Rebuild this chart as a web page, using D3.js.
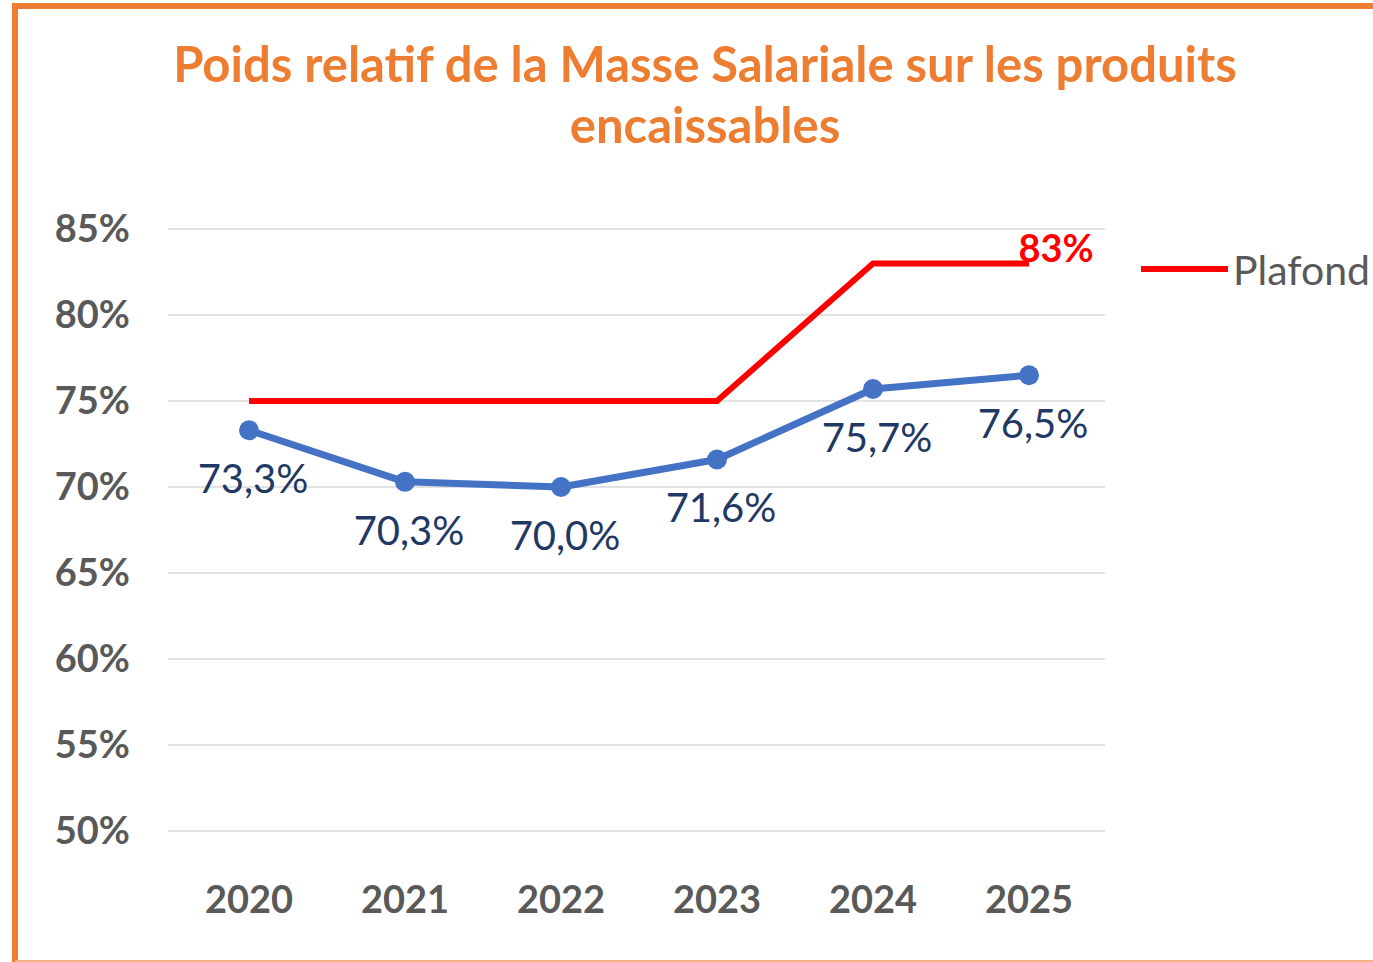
<!DOCTYPE html>
<html>
<head>
<meta charset="utf-8">
<script src="https://cdn.jsdelivr.net/npm/d3@7"></script>
<style>
  body { margin: 0; background: #fff; }
  svg { display: block; font-family: Lato, "Open Sans", sans-serif; }
</style>
</head>
<body>
<div id="chart"></div>
<script>
const years = ["2020", "2021", "2022", "2023", "2024", "2025"]
const masse = [73.3, 70.3, 70.0, 71.6, 75.7, 76.5]
const plafond = [75, 75, 75, 75, 83, 83]
const yTicks = [50, 55, 60, 65, 70, 75, 80, 85]
const titleLines = ["Poids relatif de la Masse Salariale sur les produits", "encaissables"]

const W = 1373, H = 962
const orange = "#ED7D31"

const svg = d3.select("#chart").append("svg")
    .attr("width", W)
    .attr("height", H)

// frame: left + top thick, bottom thin
svg.append("path")
    .attr("d", `M15,${H} L15,6 L${W},6`)
    .attr("fill", "none")
    .attr("stroke", orange)
    .attr("stroke-width", 6)
svg.append("line")
    .attr("x1", 15).attr("x2", W)
    .attr("y1", 961).attr("y2", 961)
    .attr("stroke", "#F4B183")
    .attr("stroke-width", 2)

// title
svg.append("g").selectAll("text")
    .data(titleLines)
    .join("text")
    .attr("x", 705)
    .attr("y", (d, i) => 82 + i * 61)
    .attr("text-anchor", "middle")
    .attr("fill", orange)
    .attr("font-weight", "bold")
    .attr("font-size", 49)
    .text(d => d)

const xScale = d3.scaleBand().domain(years).range([171, 1107])
const yScale = d3.scaleLinear().domain([50, 85]).range([831, 229])
const cx = d => xScale(d) + xScale.bandwidth() / 2

// gridlines
svg.append("g").selectAll("line")
    .data(yTicks)
    .join("line")
    .attr("x1", 168).attr("x2", 1105)
    .attr("y1", d => yScale(d)).attr("y2", d => yScale(d))
    .attr("stroke", "#D9D9D9")
    .attr("stroke-width", 1.5)

// y labels
svg.append("g").selectAll("text")
    .data(yTicks)
    .join("text")
    .attr("x", 130)
    .attr("y", d => yScale(d) + 13)
    .attr("text-anchor", "end")
    .attr("fill", "#595959")
    .attr("font-weight", "bold")
    .attr("font-size", 38)
    .text(d => d + "%")

// x labels
svg.append("g").selectAll("text")
    .data(years)
    .join("text")
    .attr("x", d => cx(d))
    .attr("y", 913)
    .attr("text-anchor", "middle")
    .attr("fill", "#595959")
    .attr("font-weight", "bold")
    .attr("font-size", 38)
    .text(d => d)

// plafond line
const plafondLine = d3.line()
    .x((d, i) => cx(years[i]))
    .y(d => yScale(d))

svg.append("path")
    .datum(plafond)
    .attr("d", plafondLine)
    .attr("fill", "none")
    .attr("stroke", "#FF0000")
    .attr("stroke-width", 6)

svg.append("text")
    .attr("x", cx(years[5]) + 27)
    .attr("y", yScale(plafond[5]) - 1)
    .attr("text-anchor", "middle")
    .attr("fill", "#FF0000")
    .attr("font-weight", "bold")
    .attr("font-size", 38)
    .text(plafond[5] + "%")

// masse salariale line
const masseLine = d3.line()
    .x((d, i) => cx(years[i]))
    .y(d => yScale(d))

svg.append("path")
    .datum(masse)
    .attr("d", masseLine)
    .attr("fill", "none")
    .attr("stroke", "#4472C4")
    .attr("stroke-width", 7)
    .attr("stroke-linejoin", "round")

svg.append("g").selectAll("circle")
    .data(masse)
    .join("circle")
    .attr("cx", (d, i) => cx(years[i]))
    .attr("cy", d => yScale(d))
    .attr("r", 10)
    .attr("fill", "#4472C4")

svg.append("g").selectAll("text")
    .data(masse)
    .join("text")
    .attr("x", (d, i) => cx(years[i]) + 4)
    .attr("y", d => yScale(d) + 63)
    .attr("text-anchor", "middle")
    .attr("fill", "#1F3864")
    .attr("font-size", 40)
    .text(d => d.toFixed(1).replace(".", ",") + "%")

// legend
svg.append("line")
    .attr("x1", 1141).attr("x2", 1228)
    .attr("y1", 269).attr("y2", 269)
    .attr("stroke", "#FF0000")
    .attr("stroke-width", 6)

svg.append("text")
    .attr("x", 1233)
    .attr("y", 285)
    .attr("fill", "#595959")
    .attr("font-size", 41)
    .text("Plafond")
</script>
</body>
</html>
